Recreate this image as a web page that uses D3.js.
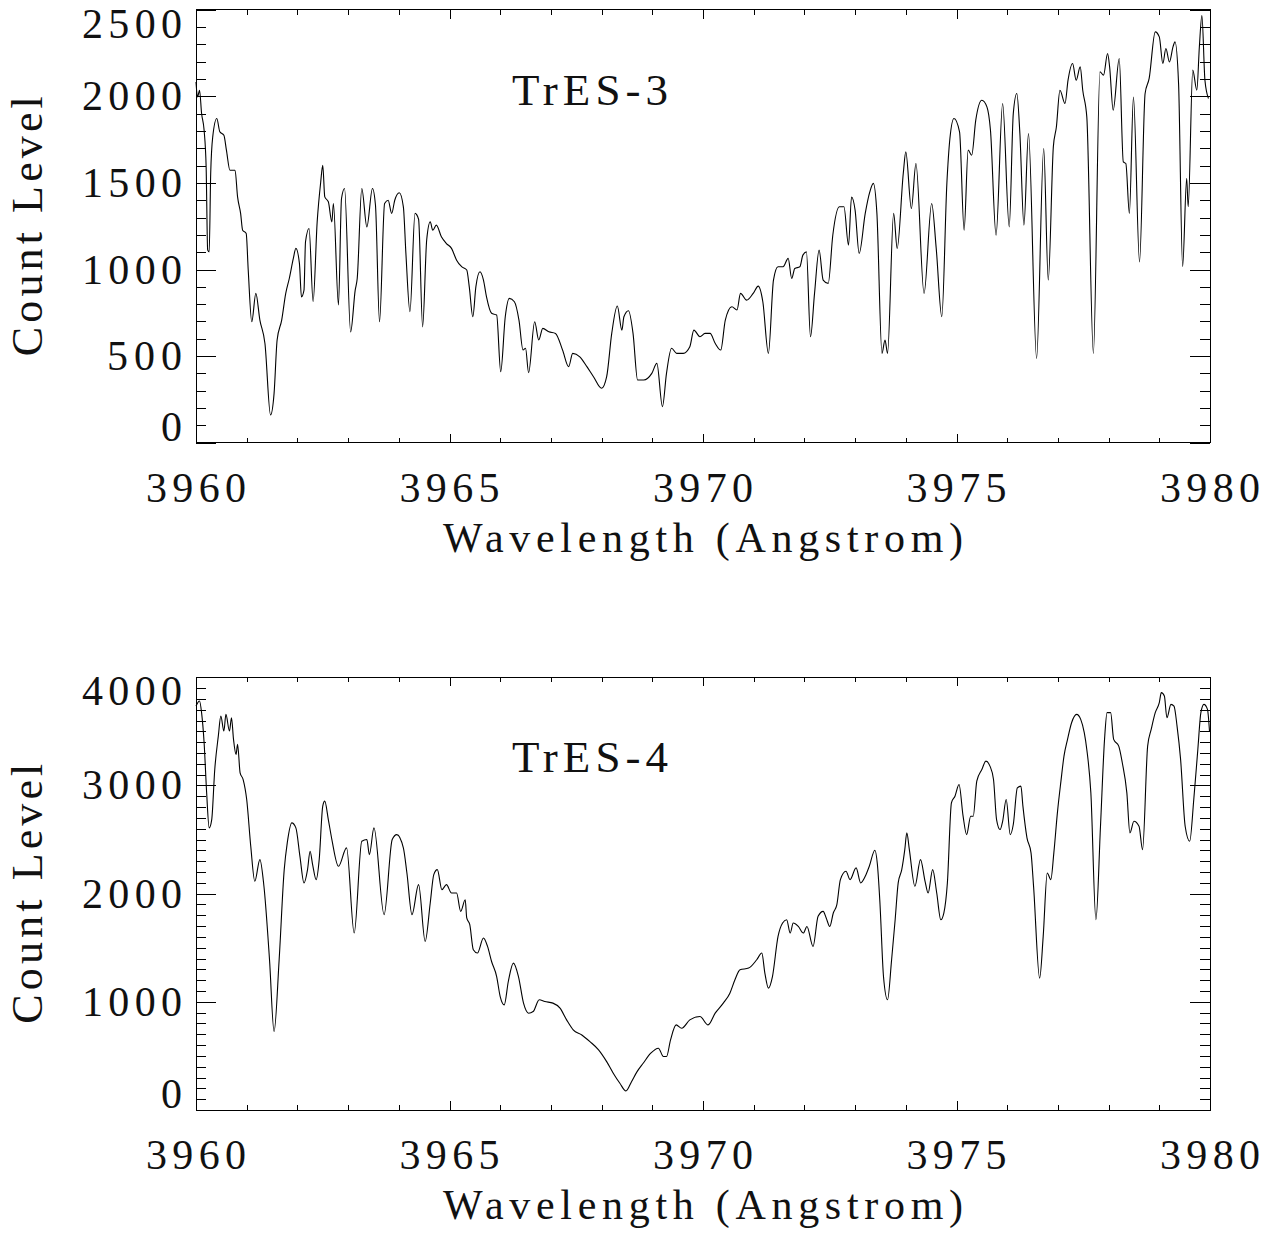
<!DOCTYPE html>
<html lang="en">
<head>
<meta charset="UTF-8">
<title>TrES-3 / TrES-4 spectra</title>
<script src="https://d3js.org/d3.v7.min.js"></script>
<style>
body{ margin:0; background:#fff; }
.tick line{ stroke:#000; shape-rendering:crispEdges; }
.frame{ fill:none; stroke:#000; stroke-width:1; shape-rendering:crispEdges; }
.spec{ fill:none; stroke:#000; stroke-width:1.1; stroke-linejoin:round; }
text{ font-family:"Liberation Serif","DejaVu Serif",serif; fill:#111; }
</style>
</head>
<body>
<script>
// wavelength ticks (Angstrom)
var xTicks = [3960, 3965, 3970, 3975, 3980];
var yTicks3 = [0, 500, 1000, 1500, 2000, 2500];
var yTicks4 = [0, 1000, 2000, 3000, 4000];

// TrES-3 spectrum
var wl3 = [3960.00,3960.03,3960.07,3960.11,3960.16,3960.20,3960.23,3960.26,3960.29,3960.33,3960.41,3960.47,3960.55,3960.60,3960.67,3960.77,3960.82,3960.88,3960.92,3960.99,
  3961.03,3961.10,3961.18,3961.26,3961.36,3961.47,3961.54,3961.60,3961.69,3961.77,3961.84,3961.92,3961.97,3962.04,3962.08,3962.13,3962.16,3962.23,3962.31,3962.39,
  3962.46,3962.50,3962.54,3962.61,3962.68,3962.71,3962.81,3962.87,3962.93,3963.05,3963.14,3963.18,3963.27,3963.37,3963.48,3963.54,3963.62,3963.72,3963.79,3963.86,
  3963.92,3964.01,3964.09,3964.14,3964.22,3964.32,3964.39,3964.47,3964.55,3964.62,3964.67,3964.74,3964.84,3964.94,3965.04,3965.14,3965.24,3965.34,3965.39,3965.46,
  3965.52,3965.60,3965.67,3965.73,3965.83,3965.93,3966.01,3966.10,3966.18,3966.28,3966.37,3966.45,3966.50,3966.56,3966.68,3966.76,3966.84,3966.96,3967.09,3967.23,
  3967.35,3967.43,3967.57,3967.71,3967.84,3968.00,3968.10,3968.20,3968.31,3968.40,3968.44,3968.53,3968.62,3968.71,3968.83,3968.99,3969.09,3969.20,3969.28,3969.38,
  3969.48,3969.61,3969.74,3969.82,3969.94,3970.04,3970.14,3970.24,3970.35,3970.44,3970.57,3970.67,3970.74,3970.86,3970.99,3971.09,3971.18,3971.29,3971.39,3971.48,
  3971.58,3971.68,3971.75,3971.81,3971.91,3971.97,3972.04,3972.12,3972.20,3972.29,3972.37,3972.47,3972.56,3972.69,3972.78,3972.87,3972.93,3973.00,3973.08,3973.20,
  3973.29,3973.36,3973.43,3973.53,3973.59,3973.64,3973.76,3973.83,3973.95,3974.00,3974.11,3974.20,3974.36,3974.51,3974.60,3974.71,3974.81,3974.87,3974.95,3975.06,
  3975.15,3975.23,3975.30,3975.38,3975.50,3975.60,3975.67,3975.78,3975.91,3976.04,3976.12,3976.19,3976.25,3976.33,3976.42,3976.58,3976.72,3976.81,3976.91,3976.97,
  3977.04,3977.14,3977.20,3977.29,3977.36,3977.44,3977.49,3977.57,3977.70,3977.83,3977.90,3977.98,3978.02,3978.09,3978.21,3978.29,3978.34,3978.41,3978.49,3978.61,
  3978.72,3978.80,3978.92,3979.00,3979.07,3979.13,3979.20,3979.27,3979.31,3979.38,3979.46,3979.54,3979.57,3979.66,3979.74,3979.79,3979.84,3979.90,3979.97];
var cnt3 = [2083,1996,2035,1902,1804,1592,1112,1102,1556,1766,1872,1795,1775,1689,1573,1573,1419,1324,1227,1208,
  997,698,862,708,573,160,285,593,708,862,948,1064,1122,1035,842,881,1160,1237,814,1275,
  1506,1602,1419,1391,1275,1381,795,1410,1468,640,881,948,1468,1246,1468,1371,698,1381,1400,1324,
  1400,1443,1362,1093,756,1324,1290,669,1170,1275,1227,1256,1189,1150,1122,1054,1016,997,900,727,
  900,987,939,842,747,737,410,727,833,814,708,535,545,404,698,593,660,640,631,535,
  439,516,496,439,381,314,381,631,789,650,727,762,631,362,362,400,458,208,400,545,
  516,516,554,650,612,631,631,574,535,708,785,766,862,823,862,904,814,516,939,1016,
  1016,1064,948,1006,1016,1083,1102,612,862,1112,939,920,1198,1362,1362,1141,1419,1343,1093,1324,
  1448,1497,1324,516,593,516,1324,1122,1554,1679,1352,1612,862,1381,1122,727,1497,1756,1872,1795,
  1227,1689,1660,1862,1977,1939,1804,1198,1958,1246,1900,2016,1785,1256,1785,487,1699,939,1708,1823,
  2035,1958,2093,2189,2093,2170,2035,1881,516,2141,2122,2247,2170,1920,2218,1621,1612,1324,1996,1044,
  2016,2103,2372,2343,2189,2276,2198,2285,2314,2074,1016,1526,1362,2151,2035,2285,2466,2093,1987];

// TrES-4 spectrum
var wl4 = [3960.00,3960.07,3960.11,3960.16,3960.21,3960.26,3960.31,3960.37,3960.44,3960.49,3960.55,3960.59,3960.66,3960.70,3960.74,3960.79,3960.82,3960.87,3960.93,3961.00,
  3961.08,3961.16,3961.26,3961.34,3961.45,3961.54,3961.64,3961.74,3961.80,3961.89,3961.97,3962.05,3962.13,3962.20,3962.25,3962.30,3962.37,3962.43,3962.50,3962.54,
  3962.61,3962.68,3962.81,3962.97,3963.12,3963.27,3963.37,3963.42,3963.51,3963.71,3963.87,3963.96,3964.09,3964.16,3964.26,3964.39,3964.52,3964.62,3964.69,3964.76,
  3964.85,3964.94,3965.04,3965.14,3965.22,3965.31,3965.34,3965.40,3965.47,3965.55,3965.67,3965.75,3965.83,3965.93,3966.00,3966.08,3966.16,3966.26,3966.36,3966.46,
  3966.56,3966.65,3966.77,3966.88,3967.04,3967.18,3967.31,3967.44,3967.61,3967.77,3967.94,3968.10,3968.23,3968.36,3968.48,3968.59,3968.70,3968.82,3968.97,3969.12,
  3969.22,3969.28,3969.36,3969.47,3969.58,3969.74,3969.94,3970.10,3970.24,3970.40,3970.53,3970.63,3970.73,3970.90,3971.06,3971.16,3971.22,3971.29,3971.37,3971.48,
  3971.57,3971.65,3971.72,3971.78,3971.88,3971.98,3972.05,3972.17,3972.27,3972.37,3972.43,3972.50,3972.57,3972.64,3972.71,3972.82,3972.90,3973.02,3973.11,3973.20,
  3973.28,3973.39,3973.44,3973.49,3973.56,3973.64,3973.72,3973.79,3973.85,3973.92,3973.98,3974.02,3974.07,3974.18,3974.29,3974.38,3974.44,3974.53,3974.61,3974.69,
  3974.75,3974.82,3974.90,3974.97,3975.05,3975.13,3975.20,3975.28,3975.33,3975.40,3975.50,3975.58,3975.66,3975.73,3975.79,3975.86,3975.91,3975.98,3976.06,3976.12,
  3976.20,3976.27,3976.31,3976.39,3976.47,3976.52,3976.64,3976.71,3976.79,3976.86,3976.92,3976.99,3977.06,3977.12,3977.19,3977.27,3977.37,3977.45,3977.52,3977.57,
  3977.65,3977.75,3977.84,3977.92,3977.97,3978.04,3978.10,3978.20,3978.27,3978.36,3978.42,3978.50,3978.60,3978.67,3978.77,3978.84,3978.92,3979.00,3979.04,3979.10,
  3979.15,3979.23,3979.29,3979.35,3979.42,3979.51,3979.60,3979.68,3979.76,3979.82,3979.88,3979.95,3979.99];
var cnt4 = [3734,3781,3673,3395,2932,2608,2685,3148,3456,3641,3503,3657,3503,3626,3426,3287,3380,3117,3055,2870,
  2438,2114,2315,2068,1389,725,1389,2222,2469,2654,2608,2345,2099,2222,2392,2269,2130,2315,2809,2855,
  2685,2500,2253,2423,1636,2485,2500,2361,2608,1806,2500,2546,2423,2191,1806,2083,1559,1914,2176,2222,
  2037,2083,2006,2006,1836,1944,1775,1713,1481,1451,1590,1512,1373,1234,1049,972,1188,1358,1234,988,
  895,910,1019,1003,988,942,833,741,694,632,556,447,340,247,176,262,355,432,525,571,
  494,494,648,787,756,833,864,787,895,988,1080,1204,1296,1312,1389,1451,1266,1127,1234,1605,
  1729,1759,1636,1729,1697,1636,1697,1512,1790,1836,1775,1697,1821,1898,2130,2207,2130,2238,2099,2160,
  2253,2401,2269,1914,1234,1019,1389,1759,2099,2222,2407,2562,2407,2068,2315,2114,2006,2222,2006,1759,
  1821,2099,2840,2901,3009,2716,2546,2716,2716,3040,3148,3225,3179,3055,2685,2593,2669,2870,2546,2639,
  2978,2994,2809,2516,2377,2068,1219,1605,2191,2130,2377,2747,3040,3271,3426,3580,3657,3611,3488,3333,
  2932,1759,2623,3426,3673,3673,3426,3364,3210,2932,2562,2669,2623,2407,3364,3518,3673,3766,3858,3827,
  3626,3750,3734,3549,3241,2623,2485,2870,3333,3673,3750,3704,3503];

var width = 1274, height = 1233;
var x0 = 196, x1 = 1210;

var svg = d3.select("body").append("svg")
    .attr("width", width)
    .attr("height", height);

var x = d3.scaleLinear().domain([3960, 3980]).range([x0, x1]);

function drawPanel(top, bottom, yMax, yTicks, wl, cnt, title) {
    var y = d3.scaleLinear().domain([0, yMax]).range([bottom, top]);
    var g = svg.append("g");

    var yMinor = d3.range(0, yMax + 1, 100);
    var xMinor = d3.range(3960, 3981, 1);

    // ticks on all four sides, pointing inwards
    function ticks(axis, vals, size, tr) {
        g.append("g")
            .attr("transform", tr)
            .call(axis.tickValues(vals).tickSize(size).tickFormat(""))
            .call(function(s){ s.select(".domain").remove(); });
    }
    ticks(d3.axisRight(y), yMinor, 10, "translate(" + x0 + ",0)");
    ticks(d3.axisRight(y), yTicks, 20, "translate(" + x0 + ",0)");
    ticks(d3.axisLeft(y), yMinor, 10, "translate(" + x1 + ",0)");
    ticks(d3.axisLeft(y), yTicks, 20, "translate(" + x1 + ",0)");
    ticks(d3.axisBottom(x), xMinor, 5, "translate(0," + top + ")");
    ticks(d3.axisBottom(x), xTicks, 9, "translate(0," + top + ")");
    ticks(d3.axisTop(x), xMinor, 5, "translate(0," + bottom + ")");
    ticks(d3.axisTop(x), xTicks, 9, "translate(0," + bottom + ")");

    g.append("rect").attr("class", "frame")
        .attr("x", x0).attr("y", top)
        .attr("width", x1 - x0).attr("height", bottom - top);

    // spectrum
    var line = d3.line()
        .curve(d3.curveMonotoneX)
        .x(function(d){ return x(d[0]); })
        .y(function(d){ return y(d[1]); });
    g.append("path").attr("class", "spec")
        .attr("d", line(d3.zip(wl, cnt)));

    // y tick labels (end labels kept inside the frame)
    g.selectAll(".ylab").data(yTicks).enter()
        .append("text").attr("class", "ylab")
        .attr("x", 182)
        .attr("y", function(d){
            var b = y(d) + 14;
            return Math.min(Math.max(b, top + 28), bottom - 2);
        })
        .attr("text-anchor", "end")
        .attr("font-size", 42)
        .attr("textLength", function(d){ return String(d).length * 25; })
        .attr("lengthAdjust", "spacing")
        .text(function(d){ return d; });

    // x tick labels
    g.selectAll(".xlab").data(xTicks).enter()
        .append("text").attr("class", "xlab")
        .attr("x", function(d){ return x(d); })
        .attr("y", bottom + 59)
        .attr("text-anchor", "middle")
        .attr("font-size", 42)
        .attr("textLength", 100)
        .attr("lengthAdjust", "spacing")
        .text(function(d){ return d; });

    g.append("text")
        .attr("x", (x0 + x1) / 2)
        .attr("y", bottom + 109)
        .attr("text-anchor", "middle")
        .attr("font-size", 42)
        .attr("textLength", 520)
        .attr("lengthAdjust", "spacing")
        .text("Wavelength (Angstrom)");

    g.append("text")
        .attr("transform", "translate(42," + ((top + bottom) / 2) + ") rotate(-90)")
        .attr("text-anchor", "middle")
        .attr("font-size", 44)
        .attr("textLength", 260)
        .attr("lengthAdjust", "spacing")
        .text("Count Level");

    g.append("text")
        .attr("x", x(3967.77))
        .attr("y", top + 95)
        .attr("text-anchor", "middle")
        .attr("font-size", 45)
        .attr("textLength", 156)
        .attr("lengthAdjust", "spacing")
        .text(title);
}

drawPanel(9.7, 442.7, 2500, yTicks3, wl3, cnt3, "TrES-3");
drawPanel(677.3, 1110, 4000, yTicks4, wl4, cnt4, "TrES-4");
</script>
</body>
</html>
